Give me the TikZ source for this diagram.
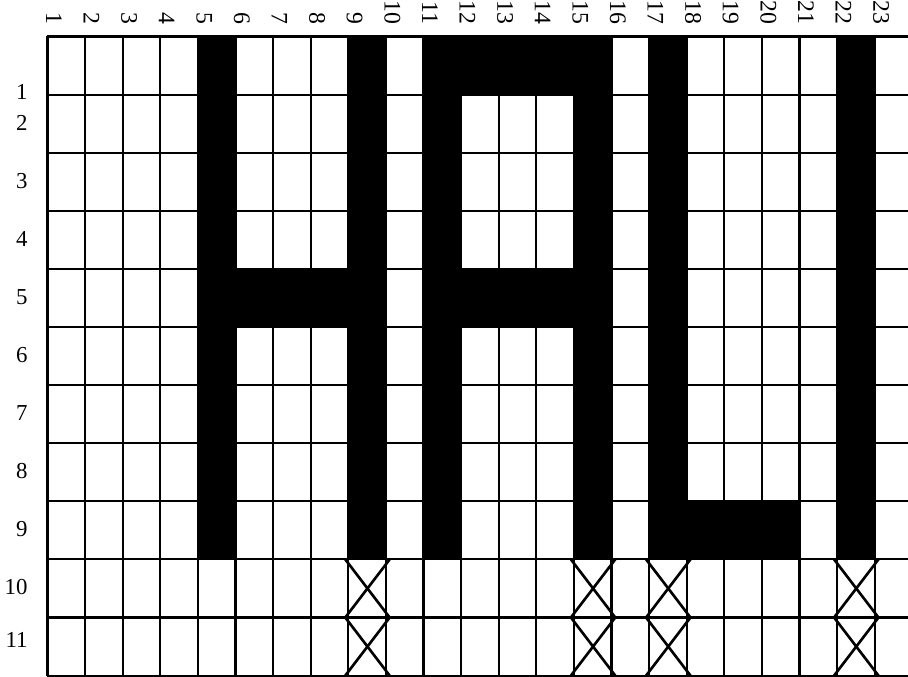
\documentclass[tikz,border=0pt]{standalone}
\usepackage{fontspec}
\setmainfont{Liberation Serif}
\usetikzlibrary{positioning}

\begin{document}
\begin{tikzpicture}[x=0.752cm,y=-1.162cm,
  gridline/.style={line width=1.2pt},
  crossline/.style={line width=1.5pt},
  collabel/.style={rotate=-90,anchor=east,inner sep=0pt,font=\fontsize{13.5}{14}\selectfont},
  rowlabel/.style={anchor=east,inner sep=0pt,font=\fontsize{13}{14}\selectfont}]
  \useasboundingbox (-1.263,-0.628) rectangle (22.886,11.024);
  \fill[white] (-1.263,-0.628) rectangle (22.886,11.024);
  \clip (-1.263,-0.628) rectangle (22.886,11.024);

  % grid
  \foreach \c in {0,...,23}
    \draw[gridline] (\c,0) -- (\c,11);
  \foreach \r in {0,...,11}
    \draw[gridline] (0,\r) -- (23.5,\r);

  % black cells: H
  \fill (4,0) rectangle (5,9);
  \fill (5,4) rectangle (8,5);
  \fill (8,0) rectangle (9,9);
  % A
  \fill (10,0) rectangle (11,9);
  \fill (11,0) rectangle (14,1);
  \fill (11,4) rectangle (14,5);
  \fill (14,0) rectangle (15,9);
  % L and I
  \fill (16,0) rectangle (17,9);
  \fill (17,8) rectangle (20,9);
  \fill (21,0) rectangle (22,9);

  % crosses in rows 10 and 11
  \foreach \c in {9,15,17,22}
    \foreach \r in {10,11} {
      \draw[crossline] ({\c-1.08},{\r-1}) -- ({\c+0.1},\r);
      \draw[crossline] ({\c+0.1},{\r-1}) -- ({\c-1.08},\r);
    }

  % column numbers
  \foreach \c in {1,...,23}
    \node[collabel] (col\c) at ({\c-1+0.17},-0.2) {\c};

  % row numbers
  \node[rowlabel] (row1) at (-0.52,0.95) {1};
  \foreach \r in {2,...,10}
    \node[rowlabel] (row\r) at (-0.52,{\r-0.52}) {\r};
  \node[rowlabel] (row11) at (-0.52,10.38) {11};
\end{tikzpicture}
\end{document}
